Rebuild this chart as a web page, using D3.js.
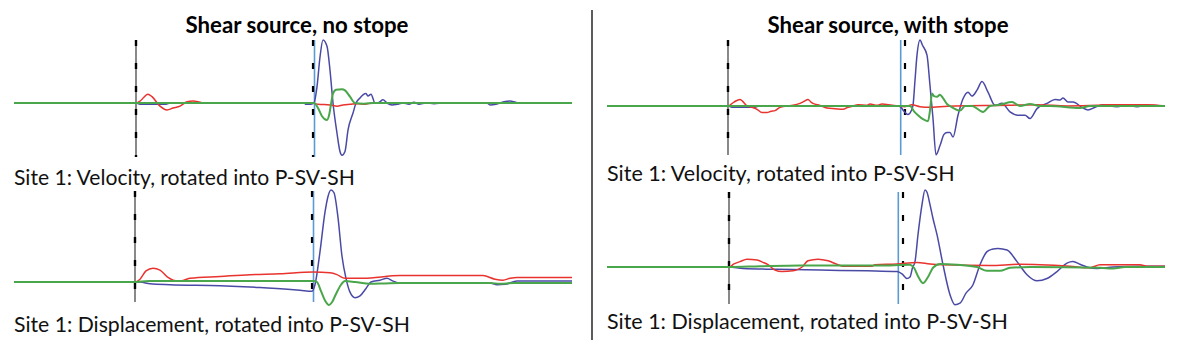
<!DOCTYPE html>
<html>
<head>
<meta charset="utf-8">
<script src="https://cdn.jsdelivr.net/npm/d3@7"></script>
<style>
  html, body { margin: 0; padding: 0; background: #fff; }
  svg { display: block; }
</style>
</head>
<body>
<svg id="chart" width="1181" height="349"></svg>
<script>
// Seismograms at Site 1, rotated into P-SV-SH.
// Time in ms from record start; amplitude normalised to the S-wave peak of each trace set.

const titles = ["Shear source, no stope", "Shear source, with stope"];
const panelLabels = [
  "Site 1: Velocity, rotated into P-SV-SH",
  "Site 1: Displacement, rotated into P-SV-SH"
];
const componentNames = ["P", "SV", "SH"];   // red, green, blue
const recordLength = 558;

// Arrival picks (ms): P pick, S pick (dashed), theoretical S (blue)
const pPick      = [122, 121, 121, 122];
const sPick      = [299, 298, 298, 296];
const sTheory    = [300.5, 299.5, 293.7, 291.3];

// ---- No stope, velocity ----
const velNoStopeP = [[0,0],[122,0],[126,0.03],[134,0.14],[138,0.10],[146,-0.05],[153,-0.11],[159,-0.08],[166,-0.05],[173,0.02],[179,0.03],[184,0.02],[189,0],[298,0],[304,-0.02],[316,-0.03],[323,-0.05],[329,-0.03],[336,-0.02],[344,-0.01],[351,-0.02],[358,0],[558,0]];
const velNoStopeSV = [[0,0],[300,0],[304,-0.08],[308,-0.21],[313,-0.27],[315,-0.2],[317,-0.02],[319,0.15],[322,0.21],[328,0.22],[331,0.2],[336,0.1],[341,0],[350,-0.01],[360,0],[558,0]];
const velNoStopeSH = [[0,0],[122,0],[126,-0.02],[152,-0.02],[156,0],[290,0],[292,-0.02],[297,-0.02],[300,0],[303,0.26],[306,0.73],[309,1.0],[313,0.9],[316,0.52],[319,0],[323,-0.48],[326,-0.77],[328,-0.83],[331,-0.77],[334,-0.43],[339,-0.16],[342,0],[346,0.08],[349,0.13],[352,0.15],[354,0.11],[357,0.14],[361,0],[365,0.01],[369,0.05],[373,0],[378,-0.03],[383,-0.02],[389,0],[395,-0.02],[400,0.01],[405,-0.02],[412,0],[420,-0.01],[430,0],[473,0],[476,-0.03],[482,-0.02],[490,0.02],[496,0.03],[502,0.01],[508,0],[558,0]];

// ---- No stope, displacement ----
const dispNoStopeP = [[0,0],[121,0],[126,0.03],[132,0.12],[139,0.15],[146,0.13],[154,0.05],[164,0.01],[170,0.02],[176,0.04],[206,0.06],[236,0.08],[266,0.09],[299,0.11],[316,0.1],[323,0.08],[331,0.04],[349,0.04],[386,0.07],[469,0.07],[481,0.03],[489,0.02],[496,0.04],[503,0.05],[558,0.05]];
const dispNoStopeSV = [[0,0],[121,0],[135,0.01],[300,0.01],[303,0],[307,-0.1],[311,-0.2],[315,-0.25],[318,-0.22],[322,-0.13],[327,-0.03],[331,0.01],[341,0],[356,-0.02],[371,-0.015],[386,-0.01],[476,-0.01],[486,-0.02],[500,-0.01],[558,-0.01]];
const dispNoStopeSH = [[0,0],[121,0],[126,0],[136,-0.02],[156,-0.03],[206,-0.04],[246,-0.06],[286,-0.09],[298,-0.1],[301,-0.03],[306,0.33],[311,0.76],[314,0.93],[317,1.0],[320,0.97],[324,0.7],[328,0.28],[332,0.04],[336,-0.11],[341,-0.17],[346,-0.15],[352,-0.07],[357,0],[366,0.02],[373,0.04],[379,0.01],[386,-0.01],[476,-0.01],[483,-0.03],[491,-0.025],[503,0.01],[558,0.01]];

// ---- With stope, velocity ----
const velStopeP = [[0,0],[121,0],[127,0.06],[133,0.1],[140,0],[145,-0.02],[150,-0.05],[155,-0.1],[160,-0.1],[164,-0.08],[168,-0.07],[173,-0.02],[179,0],[186,0.01],[193,0.04],[197,0.07],[201,0.1],[204,0.06],[206,0.04],[213,0.01],[220,-0.03],[228,-0.04],[236,-0.05],[241,-0.02],[246,0],[251,0.02],[260,0.01],[263,0.03],[270,0.01],[275,0.03],[285,0.01],[291,0],[298,-0.01],[305,0.02],[313,-0.01],[323,-0.02],[333,-0.01],[348,0],[400,0.01],[430,0.02],[460,0],[490,0.01],[500,0.02],[540,0.02],[558,0]];
const velStopeSV = [[0,0],[300,0],[303,0],[307,-0.08],[311,-0.14],[316,-0.2],[321,-0.23],[323,-0.07],[325,0.19],[327,0.15],[330,0.14],[333,0.17],[336,0.12],[340,0.03],[343,0],[353,-0.07],[358,0],[365,0],[373,-0.07],[376,-0.09],[383,0],[393,0.02],[405,0.06],[413,0],[423,0.03],[433,0],[443,0],[473,-0.03],[483,0],[558,0]];
const velStopeSH = [[0,0],[121,0],[125,-0.02],[148,-0.02],[152,0],[291,0],[294,-0.02],[297,-0.08],[301,-0.13],[304,-0.08],[306,0.01],[308,0.39],[310,0.77],[313,1.0],[315.5,0.92],[320,0.77],[323,0.31],[326,-0.19],[329,-0.74],[333,-0.6],[337,-0.43],[340,-0.4],[343,-0.4],[346,-0.47],[351,-0.14],[356,0.11],[361,0.21],[365,0.15],[370,0.24],[375,0.37],[381,0.21],[388,0.01],[395,0.04],[403,-0.09],[411,-0.14],[418,-0.14],[423,-0.19],[430,-0.04],[440,0.04],[448,0.1],[453,0.09],[456,0.12],[461,0.06],[466,0.06],[475,-0.02],[481,-0.06],[488,-0.02],[496,0.02],[503,0],[510,-0.01],[520,0.01],[530,-0.01],[540,0.01],[558,0]];

// ---- With stope, displacement ----
const dispStopeP = [[0,0],[122,0],[127,0.04],[133,0.07],[140,0.1],[150,0.09],[156,0.06],[161,0.03],[168,-0.04],[175,-0.06],[186,-0.05],[191,-0.03],[195,0],[201,0.08],[211,0.1],[221,0.08],[231,0.03],[236,0.01],[265,0.01],[268,0.03],[290,0.04],[310,0.06],[323,0.04],[336,0.03],[383,0.02],[413,0.035],[433,0.03],[463,0.01],[483,-0.01],[493,0.03],[533,0.03],[540,0.01],[558,0.01]];
const dispStopeSV = [[0,0],[122,0],[153,0.01],[193,0.02],[283,0.02],[303,0.03],[307,-0.01],[311,-0.12],[316,-0.21],[321,-0.13],[326,-0.01],[333,0.04],[350,0.03],[370,0],[380,-0.05],[393,-0.05],[403,-0.01],[423,0],[493,-0.01],[506,-0.02],[518,0],[558,0]];
const dispStopeSH = [[0,0],[122,0],[136,-0.02],[170,-0.03],[213,-0.04],[260,-0.05],[290,-0.06],[295,-0.09],[300,-0.15],[303,-0.13],[305.5,-0.01],[308,0.07],[311,0.42],[315,0.81],[318,1.0],[320,0.97],[323,0.81],[326,0.63],[330,0.42],[336,0.03],[343,-0.36],[348,-0.49],[353,-0.47],[359,-0.34],[366,-0.23],[373,0.03],[380,0.2],[385,0.23],[391,0.24],[400,0.22],[410,0.07],[420,-0.1],[430,-0.18],[440,-0.15],[450,-0.06],[460,0.05],[466,0.07],[473,0.035],[480,0],[490,-0.02],[506,0],[533,0.01],[558,0.01]];

// ---- Layout ----
const colors = { P: "#e8332e", SV: "#4aa64a", SH: "#4a4aa6", sLine: "#5b9bd5" };
const widths = { P: 1.5, SV: 2, SH: 1.5 };

const panels = [
  { traces: [velNoStopeP, velNoStopeSV, velNoStopeSH],   left: 14,  base: 103, amp: 63,   top: 40,  bottom: 157 },
  { traces: [dispNoStopeP, dispNoStopeSV, dispNoStopeSH], left: 14,  base: 282, amp: 92,   top: 191, bottom: 302 },
  { traces: [velStopeP, velStopeSV, velStopeSH],          left: 607, base: 106, amp: 66,   top: 40,  bottom: 155 },
  { traces: [dispStopeP, dispStopeSV, dispStopeSH],       left: 607, base: 267, amp: 77,   top: 192, bottom: 304 }
];

const svg = d3.select("#chart");
const font = "Lato, 'Open Sans', sans-serif";

panels.forEach((p, i) => {
  const x = d3.scaleLinear().domain([0, recordLength]).range([p.left, p.left + recordLength]);
  const y = d3.scaleLinear().domain([-1, 1]).range([p.base + p.amp, p.base - p.amp]);
  const g = svg.append("g").attr("class", "panel");

  // arrival markers
  const px = x(pPick[i]);
  g.append("line").attr("x1", px).attr("x2", px).attr("y1", p.top).attr("y2", p.bottom)
    .attr("stroke", "#3a3a3a").attr("stroke-width", 1.2);
  g.append("line").attr("x1", px).attr("x2", px).attr("y1", p.top).attr("y2", p.bottom)
    .attr("stroke", "#000").attr("stroke-width", 2.4).attr("stroke-dasharray", "6,17");

  const stx = x(sTheory[i]);
  g.append("line").attr("x1", stx).attr("x2", stx).attr("y1", p.top).attr("y2", p.bottom)
    .attr("stroke", colors.sLine).attr("stroke-width", 1.6);
  const sx = x(sPick[i]);
  g.append("line").attr("x1", sx).attr("x2", sx).attr("y1", p.top).attr("y2", p.bottom)
    .attr("stroke", "#000").attr("stroke-width", 2.2).attr("stroke-dasharray", "6,17");

  // traces: SH, P, then SV on top
  const line = d3.line().x(d => x(d[0])).y(d => y(d[1])).curve(d3.curveMonotoneX);
  const order = [2, 0, 1];
  order.forEach(k => {
    const name = componentNames[k];
    g.append("path")
      .datum(p.traces[k])
      .attr("d", line)
      .attr("fill", "none")
      .attr("stroke", colors[name])
      .attr("stroke-width", widths[name])
      .attr("stroke-linejoin", "round");
  });
});

// column divider
svg.append("line").attr("x1", 592).attr("x2", 592).attr("y1", 10).attr("y2", 340)
  .attr("stroke", "#333").attr("stroke-width", 1.6);

function fit(sel, width) {
  const w = sel.node().getComputedTextLength();
  const fs = parseFloat(sel.attr("font-size"));
  sel.attr("font-size", (fs * width / w).toFixed(2));
}

// titles
[[297, 223], [888, 241]].forEach(([cx, w], i) => {
  const t = svg.append("text").attr("x", cx).attr("y", 33)
    .attr("text-anchor", "middle").attr("font-family", font).attr("font-weight", "bold")
    .attr("font-size", 19).attr("fill", "#000").text(titles[i]);
  fit(t, w);
});

// panel captions
const captionPos = [
  { x: 14,  y: 185, w: 341, k: 0 },
  { x: 14,  y: 332, w: 396, k: 1 },
  { x: 607, y: 181, w: 348, k: 0 },
  { x: 607, y: 329, w: 401, k: 1 }
];
captionPos.forEach(c => {
  const t = svg.append("text").attr("x", c.x).attr("y", c.y)
    .attr("font-family", font).attr("font-size", 19).attr("fill", "#111")
    .text(panelLabels[c.k]);
  fit(t, c.w);
});
</script>
</body>
</html>
